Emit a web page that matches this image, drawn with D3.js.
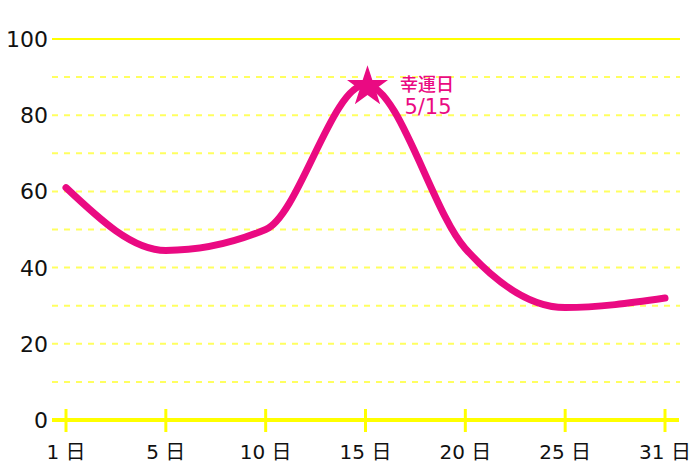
<!DOCTYPE html>
<html>
<head>
<meta charset="utf-8">
<script src="https://cdn.jsdelivr.net/npm/d3@7"></script>
<style>
  body { margin: 0; background: #fff; }
  text { font-family: "DejaVu Sans", "Noto Sans CJK JP", sans-serif; }
</style>
</head>
<body>
<svg id="chart"></svg>
<script>
// データ
let days = ["1", "5", "10", "15", "20", "25", "31"];
let values = [61, 44.5, 50, 88, 45, 29.5, 32];
let yTicks = [0, 20, 40, 60, 80, 100];
let gridTicks = [10, 20, 30, 40, 50, 60, 70, 80, 90];
let luckyDay = "15";
let luckyLabel = ["幸運日", "5/15"];

const width = 700;
const height = 467;
const pink = "#ea0a82";
const yellow = "#ffff00";

let svg = d3.select("#chart")
    .attr("width", width)
    .attr("height", height);

let scX = d3.scalePoint()
    .domain(days)
    .range([66, 665]);

let scY = d3.scaleLinear()
    .domain([0, 100])
    .range([420, 39]);

// グリッド
svg.append("g")
    .selectAll("line")
    .data(gridTicks)
    .enter()
    .append("line")
    .attr("x1", 52)
    .attr("x2", 680)
    .attr("y1", d => scY(d))
    .attr("y2", d => scY(d))
    .style("stroke", "#ffff60")
    .style("stroke-width", 2)
    .style("stroke-dasharray", "6,6");

svg.append("line")
    .attr("x1", 52)
    .attr("x2", 680)
    .attr("y1", scY(100))
    .attr("y2", scY(100))
    .style("stroke", yellow)
    .style("stroke-width", 2);

// 軸
svg.append("line")
    .attr("x1", 52)
    .attr("x2", 679)
    .attr("y1", scY(0))
    .attr("y2", scY(0))
    .style("stroke", yellow)
    .style("stroke-width", 4);

svg.append("g")
    .selectAll("line")
    .data(days)
    .enter()
    .append("line")
    .attr("x1", d => scX(d))
    .attr("x2", d => scX(d))
    .attr("y1", scY(0) - 11)
    .attr("y2", scY(0) + 12)
    .style("stroke", yellow)
    .style("stroke-width", 3);

svg.append("g")
    .selectAll("text")
    .data(days)
    .enter()
    .append("text")
    .attr("x", d => scX(d))
    .attr("y", 459)
    .attr("text-anchor", "middle")
    .style("font-size", "20px")
    .style("fill", "#111")
    .text(d => d + " 日");

svg.append("g")
    .selectAll("text")
    .data(yTicks)
    .enter()
    .append("text")
    .attr("x", 48)
    .attr("y", d => scY(d) + 8)
    .attr("text-anchor", "end")
    .style("font-size", "22px")
    .style("fill", "#111")
    .text(d => d);

// 折れ線
let line = d3.line()
    .x((d, i) => scX(days[i]))
    .y(d => scY(d))
    .curve(d3.curveMonotoneX);

svg.append("path")
    .datum(values)
    .attr("d", line)
    .style("fill", "none")
    .style("stroke", pink)
    .style("stroke-width", 7)
    .style("stroke-linecap", "round")
    .style("stroke-linejoin", "round");

// 星
let luckyVal = values[days.indexOf(luckyDay)];
svg.append("path")
    .attr("d", d3.symbol().type(d3.symbolStar).size(520))
    .attr("transform", `translate(${scX(luckyDay) + 2}, ${scY(luckyVal) + 2})`)
    .style("fill", pink);

svg.append("text")
    .attr("x", 427)
    .attr("y", 91)
    .attr("text-anchor", "middle")
    .style("font-family", "'Noto Sans CJK JP', sans-serif")
    .style("font-weight", 500)
    .style("font-size", "18px")
    .style("fill", pink)
    .text(luckyLabel[0]);

svg.append("text")
    .attr("x", 428)
    .attr("y", 114)
    .attr("text-anchor", "middle")
    .style("font-size", "21px")
    .style("fill", pink)
    .text(luckyLabel[1]);
</script>
</body>
</html>
